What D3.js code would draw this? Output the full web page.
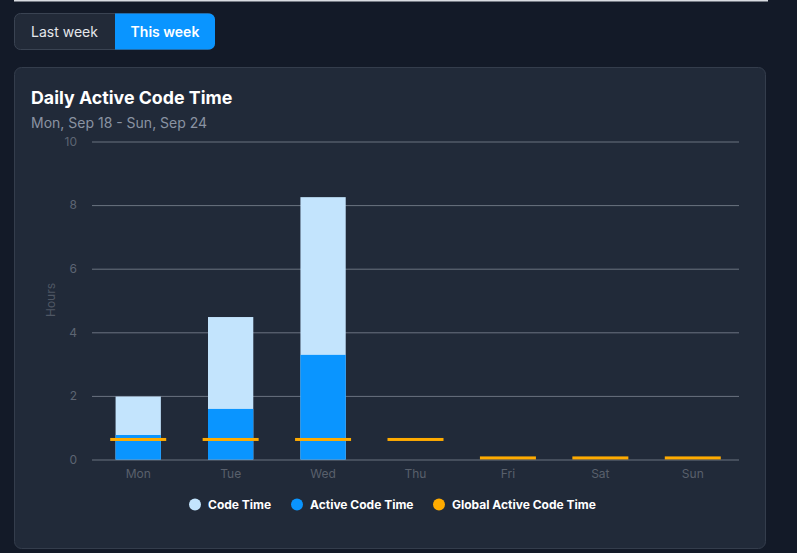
<!DOCTYPE html>
<html><head><meta charset="utf-8">
<script src="https://cdn.jsdelivr.net/npm/d3@7"></script>
<style>
html,body{margin:0;padding:0;background:#131a28;width:797px;height:553px;overflow:hidden;font-family:Inter,"Noto Sans",sans-serif;}
svg{display:block}
</style></head><body>
<svg id="c" width="797" height="553"></svg>
<script>
const categories = ["Mon","Tue","Wed","Thu","Fri","Sat","Sun"];
const codeTime = [1.98, 4.48, 8.25, 0, 0, 0, 0];
const activeCodeTime = [0.77, 1.59, 3.29, 0, 0, 0, 0];
const globalActiveCodeTime = [0.63, 0.63, 0.63, 0.63, 0.05, 0.05, 0.05];
const yTicks = [0, 2, 4, 6, 8, 10];
const seriesNames = ["Code Time", "Active Code Time", "Global Active Code Time"];
const seriesColors = ["#c3e4fd", "#0a95ff", "#ffab00"];

const svg = d3.select("#c");
// top border line
svg.append("rect").attr("x",14).attr("y",0).attr("width",754).attr("height",1.5).attr("fill","#d9dce1");

// buttons
const bg = svg.append("g");
bg.append("rect").attr("x",14.5).attr("y",13.5).attr("width",200).attr("height",36).attr("rx",6)
  .attr("fill","#222a38").attr("stroke","#3a4352");
bg.append("path").attr("d","M115,13.5 H209 A6,6 0 0 1 215,19.5 V43.5 A6,6 0 0 1 209,49.5 H115 Z").attr("fill","#0a95ff");
bg.append("text").attr("x",64.5).attr("y",36.5).attr("text-anchor","middle").attr("fill","#e5e7eb")
  .attr("font-size",14).text("Last week");
bg.append("text").attr("x",165).attr("y",36.5).attr("text-anchor","middle").attr("fill","#ffffff")
  .attr("font-size",14).attr("font-weight",600).text("This week");

// card
svg.append("rect").attr("x",14.5).attr("y",67.5).attr("width",751).attr("height",481).attr("rx",7)
  .attr("fill","#212a39").attr("stroke","#343d4c");
svg.append("text").attr("x",31).attr("y",104).attr("fill","#ffffff").attr("font-size",17.8)
  .attr("font-weight",700).text("Daily Active Code Time");
svg.append("text").attr("x",31).attr("y",127.5).attr("fill","#8a93a2").attr("font-size",14)
  .text("Mon, Sep 18 - Sun, Sep 24");

const x = d3.scaleBand().domain(categories).range([92,739]).paddingInner(0.51).paddingOuter(0.255);
const xo = d3.scaleBand().domain(categories).range([92,739]);
const y = d3.scaleLinear().domain([0,10]).range([459.5,141.5]);

// gridlines
const gy = svg.append("g").attr("transform","translate(92,0)")
  .call(d3.axisLeft(y).tickValues(yTicks).tickSize(-647).tickFormat(d3.format("d")).tickPadding(15));
gy.select(".domain").remove();
gy.selectAll(".tick line").attr("stroke","#6b7380").attr("stroke-width",1);
gy.selectAll(".tick text").attr("fill","#5d6573").attr("font-size",12).attr("font-family","Inter, sans-serif");

svg.append("text").attr("transform","translate(55,300) rotate(-90)").attr("text-anchor","middle")
  .attr("fill","#4f5764").attr("font-size",12).text("Hours");

const gx = svg.append("g").attr("transform","translate(0,459.5)")
  .call(d3.axisBottom(xo).tickSize(0).tickPadding(10));
gx.select(".domain").remove();
gx.selectAll(".tick text").attr("fill","#59606c").attr("font-size",12).attr("font-family","Inter, sans-serif");

// bars
svg.append("g").selectAll("rect").data(categories).join("rect")
  .attr("x",d=>x(d)).attr("width",x.bandwidth())
  .attr("y",(d,i)=>y(codeTime[i])).attr("height",(d,i)=>y(0)-y(codeTime[i]))
  .attr("fill",seriesColors[0]);
svg.append("g").selectAll("rect").data(categories).join("rect")
  .attr("x",d=>x(d)).attr("width",x.bandwidth())
  .attr("y",(d,i)=>y(activeCodeTime[i])).attr("height",(d,i)=>y(0)-y(activeCodeTime[i]))
  .attr("fill",seriesColors[1]);
// global lines
svg.append("g").selectAll("rect").data(categories).join("rect")
  .attr("x",d=>xo(d)+xo.bandwidth()/2-28).attr("width",56)
  .attr("y",(d,i)=>y(globalActiveCodeTime[i])-1.5).attr("height",3)
  .attr("fill",seriesColors[2]);

// legend
const legendX = [195, 297, 439];
const lg = svg.append("g");
seriesNames.forEach((n,i)=>{
  lg.append("circle").attr("cx",legendX[i]).attr("cy",504.5).attr("r",6).attr("fill",seriesColors[i]);
  lg.append("text").attr("x",legendX[i]+13).attr("y",509).attr("fill","#ffffff").attr("font-size",12)
    .attr("font-weight",700).text(n);
});
</script></body></html>
